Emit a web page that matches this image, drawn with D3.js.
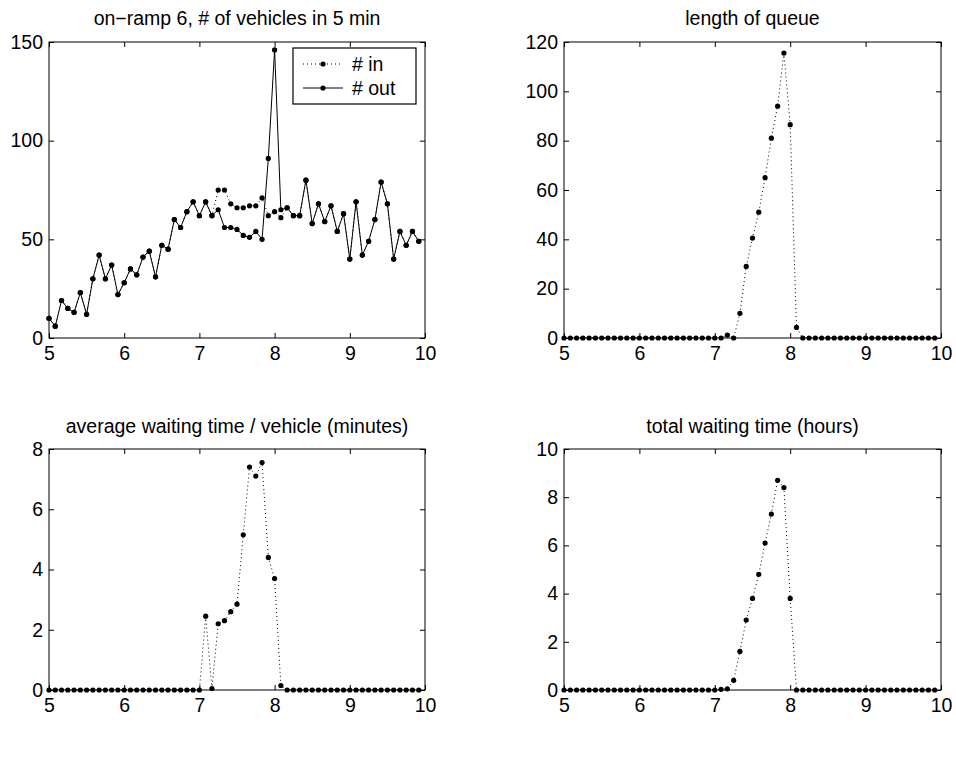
<!DOCTYPE html>
<html>
<head>
<meta charset="utf-8">
<script src="https://cdn.jsdelivr.net/npm/d3@7"></script>
<style>
  html, body { margin: 0; padding: 0; background: #fff; }
  svg { display: block; }
  text { font-family: "Liberation Sans", Arial, Helvetica, sans-serif; fill: #000; }
</style>
</head>
<body>
<svg id="chart" width="956" height="778"></svg>
<script>
// ---- data (5-minute intervals starting at 5:00) ----
const hours = d3.range(60).map(i => 5 + i / 12);
const xTicks = [5, 6, 7, 8, 9, 10];

const vehiclesOut = [10, 6, 19, 15, 13, 23, 12, 30, 42, 30, 37, 22, 28, 35, 32, 41, 44, 31, 47, 45,
  60, 56, 64, 69, 62, 69, 62, 65, 56, 56, 55, 52, 51, 54, 50, 91, 146, 65, 66, 62,
  62, 80, 58, 68, 59, 67, 54, 63, 40, 69, 42, 49, 60, 79, 68, 40, 54, 47, 54, 49];
const vehiclesIn = [10, 6, 19, 15, 13, 23, 12, 30, 42, 30, 37, 22, 28, 35, 32, 41, 44, 31, 47, 45,
  60, 56, 64, 69, 62, 69, 62, 75, 75, 68, 66, 66, 67, 67, 71, 62, 64, 61, 66, 62,
  62, 80, 58, 68, 59, 67, 54, 63, 40, 69, 42, 49, 60, 79, 68, 40, 54, 47, 54, 49];
const queueLength = [0, 0, 0, 0, 0, 0, 0, 0, 0, 0, 0, 0, 0, 0, 0, 0, 0, 0, 0, 0,
  0, 0, 0, 0, 0, 0, 1.2, 0, 10, 29, 40.5, 51, 65, 81, 94, 115.5, 86.5, 4.3, 0, 0,
  0, 0, 0, 0, 0, 0, 0, 0, 0, 0, 0, 0, 0, 0, 0, 0, 0, 0, 0, 0];
const avgWait = [0, 0, 0, 0, 0, 0, 0, 0, 0, 0, 0, 0, 0, 0, 0, 0, 0, 0, 0, 0,
  0, 0, 0, 0, 0, 2.45, 0.05, 2.2, 2.3, 2.6, 2.85, 5.15, 7.4, 7.1, 7.55, 4.4, 3.7, 0.15, 0, 0,
  0, 0, 0, 0, 0, 0, 0, 0, 0, 0, 0, 0, 0, 0, 0, 0, 0, 0, 0, 0];
const totalWait = [0, 0, 0, 0, 0, 0, 0, 0, 0, 0, 0, 0, 0, 0, 0, 0, 0, 0, 0, 0,
  0, 0, 0, 0, 0, 0.03, 0.05, 0.4, 1.6, 2.9, 3.8, 4.8, 6.1, 7.3, 8.7, 8.4, 3.8, 0, 0, 0,
  0, 0, 0, 0, 0, 0, 0, 0, 0, 0, 0, 0, 0, 0, 0, 0, 0, 0, 0, 0];

const titles = ["on\u2212ramp 6, # of vehicles in 5 min", "length of queue",
  "average waiting time / vehicle (minutes)", "total waiting time (hours)"];
const yTicks1 = [0, 50, 100, 150];
const yTicks2 = [0, 20, 40, 60, 80, 100, 120];
const yTicks3 = [0, 2, 4, 6, 8];
const yTicks4 = [0, 2, 4, 6, 8, 10];
const legendLabels = ["# in", "# out"];

// ---- drawing ----
const svg = d3.select("#chart");
const FS = 19.5;

function panel(box, yMax, yTicks, title, titleGap) {
  const x = d3.scaleLinear().domain([5, 10]).range([box.x0, box.x1]);
  const y = d3.scaleLinear().domain([0, yMax]).range([box.y1, box.y0]);
  const g = svg.append("g");
  const tl = 5;
  const xb = g.append("g").attr("transform", `translate(0,${box.y1})`)
    .call(d3.axisBottom(x).tickValues(xTicks).tickSize(-tl).tickPadding(8).tickFormat(d3.format("d")));
  const xt = g.append("g").attr("transform", `translate(0,${box.y0})`)
    .call(d3.axisTop(x).tickValues(xTicks).tickSize(-tl).tickFormat(""));
  const yl = g.append("g").attr("transform", `translate(${box.x0},0)`)
    .call(d3.axisLeft(y).tickValues(yTicks).tickSize(-tl).tickPadding(6).tickFormat(d3.format("d")));
  const yr = g.append("g").attr("transform", `translate(${box.x1},0)`)
    .call(d3.axisRight(y).tickValues(yTicks).tickSize(-tl).tickFormat(""));
  [xb, xt, yl, yr].forEach(a => {
    a.select(".domain").remove();
    a.selectAll("line").attr("stroke", "#000").attr("stroke-width", 1);
    a.selectAll("text").attr("font-size", FS).attr("font-family", "Liberation Sans, Arial, sans-serif").attr("fill", "#000");
  });
  g.append("rect").attr("x", box.x0).attr("y", box.y0)
    .attr("width", box.x1 - box.x0).attr("height", box.y1 - box.y0)
    .attr("fill", "none").attr("stroke", "#000").attr("stroke-width", 1);
  g.append("text").attr("x", (box.x0 + box.x1) / 2).attr("y", box.y0 - titleGap)
    .attr("text-anchor", "middle").attr("font-size", FS).text(title);
  return { x, y, g };
}

function series(p, values, dotted) {
  const pts = values.map((v, i) => [hours[i], v]);
  const line = d3.line().x(d => p.x(d[0])).y(d => p.y(d[1]));
  p.g.append("path").datum(pts).attr("d", line).attr("fill", "none")
    .attr("stroke", "#000").attr("stroke-width", 1)
    .attr("stroke-dasharray", dotted ? "1,3" : null);
  p.g.append("g").selectAll("circle").data(pts).join("circle")
    .attr("cx", d => p.x(d[0])).attr("cy", d => p.y(d[1])).attr("r", 2.6).attr("fill", "#000");
}

const p1 = panel({ x0: 49, x1: 425, y0: 42, y1: 338 }, 150, yTicks1, titles[0], 17);
series(p1, vehiclesIn, true);
series(p1, vehiclesOut, false);
const p2 = panel({ x0: 564, x1: 941, y0: 42, y1: 338 }, 120, yTicks2, titles[1], 17);
series(p2, queueLength, true);
const p3 = panel({ x0: 49, x1: 425, y0: 449, y1: 690 }, 8, yTicks3, titles[2], 16);
series(p3, avgWait, true);
const p4 = panel({ x0: 564, x1: 941, y0: 449, y1: 690 }, 10, yTicks4, titles[3], 16);
series(p4, totalWait, true);

// legend
const lg = svg.append("g");
lg.append("rect").attr("x", 293).attr("y", 48).attr("width", 123).attr("height", 56)
  .attr("fill", "#fff").attr("stroke", "#000").attr("stroke-width", 1.2);
legendLabels.forEach((lab, k) => {
  const yy = 64 + k * 24;
  lg.append("line").attr("x1", 303).attr("x2", 343).attr("y1", yy).attr("y2", yy)
    .attr("stroke", "#000").attr("stroke-width", 1).attr("stroke-dasharray", k === 0 ? "1,3" : null);
  lg.append("circle").attr("cx", 323).attr("cy", yy).attr("r", 2.6).attr("fill", "#000");
  lg.append("text").attr("x", 352).attr("y", yy).attr("dy", "0.35em").attr("font-size", FS).text(lab);
});
</script>
</body>
</html>
